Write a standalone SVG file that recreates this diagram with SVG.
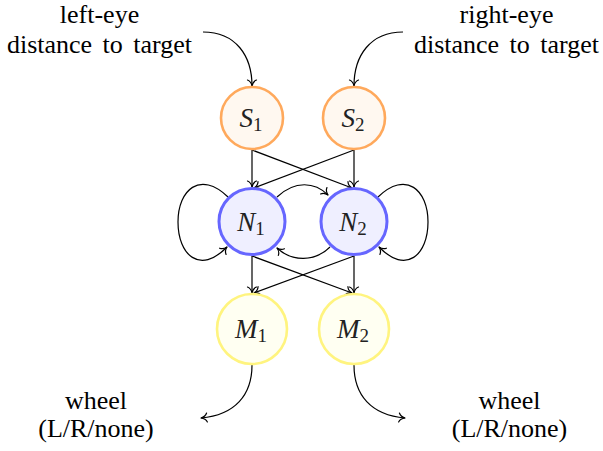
<svg xmlns="http://www.w3.org/2000/svg" width="603" height="451" viewBox="0 0 603 451">
<style>
.lbl{font-family:"Liberation Serif","Times New Roman",serif;font-size:26px;fill:#000;text-anchor:middle;word-spacing:4px}
.m{font-family:"Liberation Serif","Times New Roman",serif;font-size:27px;font-style:italic;fill:#222}
.sub{font-size:19px;font-style:normal}
.s{fill:#FFF8F0;stroke:#FFA95C;stroke-width:2.6}
.n{fill:#EFEFFF;stroke:#6666FF;stroke-width:3}
.mm{fill:#FFFFF2;stroke:#FFF47F;stroke-width:2.6}
.c{fill:none;stroke:#000;stroke-width:1.2;marker-end:url(#ah)}
</style>
<defs>
<marker id="ah" markerUnits="userSpaceOnUse" markerWidth="14" markerHeight="14" refX="0" refY="0" viewBox="-8 -7 10 14" orient="auto">
<path d="M-6,-4.5 C-5,-2 -2,-0.4 0,0 C-2,0.4 -5,2 -6,4.5" fill="none" stroke="#000" stroke-width="1.2" stroke-linecap="round" stroke-linejoin="round"/>
</marker>
</defs>
<g id="connectors">
<path class="c" d="M203,32 C236,32 252,56 252,86"/>
<path class="c" d="M403,32 C370,32 354,56 354,86"/>
<path class="c" d="M252,150 L252,187"/>
<path class="c" d="M252,150 L352,188"/>
<path class="c" d="M354,150 L254,188"/>
<path class="c" d="M354,150 L354,187"/>
<path class="c" d="M228,197 C200,170 178,190 178,222 C178,255 200,275 227,247"/>
<path class="c" d="M378,197 C406,170 428,190 428,222 C428,255 406,275 379,247"/>
<path class="c" d="M277,197 C295,180 315,182 328,195"/>
<path class="c" d="M330,247 C315,262 292,262 277,248"/>
<path class="c" d="M252,256 L252,293"/>
<path class="c" d="M252,256 L352,293"/>
<path class="c" d="M354,256 L254,293"/>
<path class="c" d="M354,256 L354,293"/>
<path class="c" d="M252,365 C252,395 235,415 201,418"/>
<path class="c" d="M354,365 C354,395 371,415 405,418"/>
</g>
<g id="S1"><circle class="s" cx="252" cy="118" r="31"/><text class="m" x="251" y="127" text-anchor="middle">S<tspan class="sub" dy="4">1</tspan></text></g>
<g id="S2"><circle class="s" cx="354" cy="118" r="31"/><text class="m" x="353" y="127" text-anchor="middle">S<tspan class="sub" dy="4">2</tspan></text></g>
<g id="N1"><circle class="n" cx="252" cy="221.5" r="33"/><text class="m" x="251" y="230.5" text-anchor="middle">N<tspan class="sub" dy="4">1</tspan></text></g>
<g id="N2"><circle class="n" cx="354" cy="221.5" r="33"/><text class="m" x="353" y="230.5" text-anchor="middle">N<tspan class="sub" dy="4">2</tspan></text></g>
<g id="M1"><circle class="mm" cx="252" cy="329" r="35"/><text class="m" x="251" y="337.5" text-anchor="middle">M<tspan class="sub" dy="4">1</tspan></text></g>
<g id="M2"><circle class="mm" cx="354" cy="329" r="35"/><text class="m" x="353" y="337.5" text-anchor="middle">M<tspan class="sub" dy="4">2</tspan></text></g>
<g id="in-left"><text class="lbl" x="99.5" y="23">left-eye</text><text class="lbl" x="99.5" y="53">distance to target</text></g>
<g id="in-right"><text class="lbl" x="506.5" y="23">right-eye</text><text class="lbl" x="506.5" y="53">distance to target</text></g>
<g id="out-left"><text class="lbl" x="96" y="409">wheel</text><text class="lbl" x="96" y="437">(L/R/none)</text></g>
<g id="out-right"><text class="lbl" x="509.5" y="409">wheel</text><text class="lbl" x="509.5" y="437">(L/R/none)</text></g>
</svg>
